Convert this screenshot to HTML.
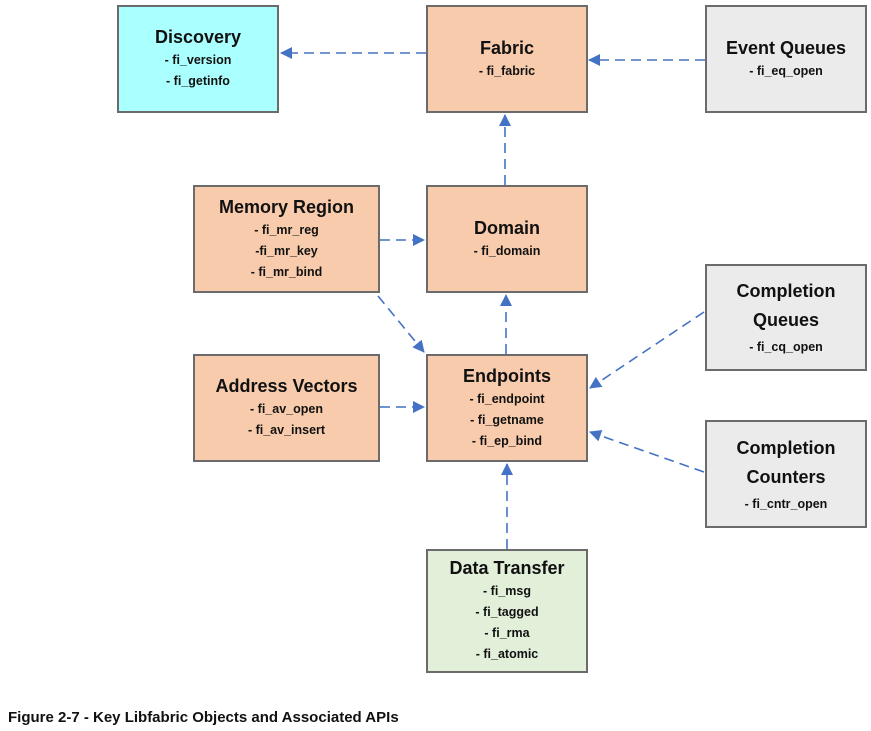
<!DOCTYPE html>
<html><head><style>
body{margin:0;width:871px;height:731px;background:#fff;position:relative;font-family:"Liberation Sans",sans-serif;overflow:hidden}
.b{position:absolute;box-sizing:border-box;border:2px solid #6b6b6b;text-align:center;color:#111;font-weight:bold;display:flex;flex-direction:column;justify-content:center}
.b .t{font-size:18px;line-height:22px;margin-bottom:2px}
.b .i{font-size:12.5px;line-height:21px}
.o{background:#f7cbab}.c{background:#aaffff}.g{background:#ebebeb}.gr{background:#e2efd9}
svg{position:absolute;left:0;top:0}
.cap{position:absolute;left:8px;top:709px;font-weight:bold;font-size:15px;color:#111}
</style></head><body>
<svg width="871" height="731">
<defs><marker id="a" markerWidth="12" markerHeight="12" refX="11" refY="6" orient="auto" markerUnits="userSpaceOnUse"><path d="M0,0 L12,6 L0,12 z" fill="#4472c4"/></marker></defs>
<g stroke="#4472c4" stroke-width="1.6" stroke-dasharray="10,6" fill="none" marker-end="url(#a)">
<line x1="426" y1="53" x2="281" y2="53"/>
<line x1="705" y1="60" x2="589" y2="60"/>
<line x1="505" y1="185" x2="505" y2="115"/>
<line x1="380" y1="240" x2="424" y2="240"/>
<line x1="378" y1="296" x2="424" y2="352"/>
<line x1="506" y1="354" x2="506" y2="295"/>
<line x1="380" y1="407" x2="424" y2="407"/>
<line x1="704" y1="312" x2="590" y2="388"/>
<line x1="704" y1="472" x2="590" y2="432"/>
<line x1="507" y1="549" x2="507" y2="464"/>
</g></svg>
<div class="b c" style="left:117px;top:5px;width:162px;height:108px"><div class="t">Discovery</div><div class="i">- fi_version<br>- fi_getinfo</div></div>
<div class="b o" style="left:426px;top:5px;width:162px;height:108px"><div class="t">Fabric</div><div class="i">- fi_fabric</div></div>
<div class="b g" style="left:705px;top:5px;width:162px;height:108px"><div class="t">Event Queues</div><div class="i">- fi_eq_open</div></div>
<div class="b o" style="left:193px;top:185px;width:187px;height:108px"><div class="t">Memory Region</div><div class="i">- fi_mr_reg<br>-fi_mr_key<br>- fi_mr_bind</div></div>
<div class="b o" style="left:426px;top:185px;width:162px;height:108px"><div class="t">Domain</div><div class="i">- fi_domain</div></div>
<div class="b g" style="left:705px;top:264px;width:162px;height:107px"><div class="t" style="line-height:29px">Completion<br>Queues</div><div class="i">- fi_cq_open</div></div>
<div class="b o" style="left:193px;top:354px;width:187px;height:108px"><div class="t">Address Vectors</div><div class="i">- fi_av_open<br>- fi_av_insert</div></div>
<div class="b o" style="left:426px;top:354px;width:162px;height:108px"><div class="t">Endpoints</div><div class="i">- fi_endpoint<br>- fi_getname<br>- fi_ep_bind</div></div>
<div class="b g" style="left:705px;top:420px;width:162px;height:108px"><div class="t" style="line-height:29px">Completion<br>Counters</div><div class="i">- fi_cntr_open</div></div>
<div class="b gr" style="left:426px;top:549px;width:162px;height:124px"><div class="t">Data Transfer</div><div class="i">- fi_msg<br>- fi_tagged<br>- fi_rma<br>- fi_atomic</div></div>
<div class="cap">Figure 2-7 - Key Libfabric Objects and Associated APIs</div>
</body></html>
